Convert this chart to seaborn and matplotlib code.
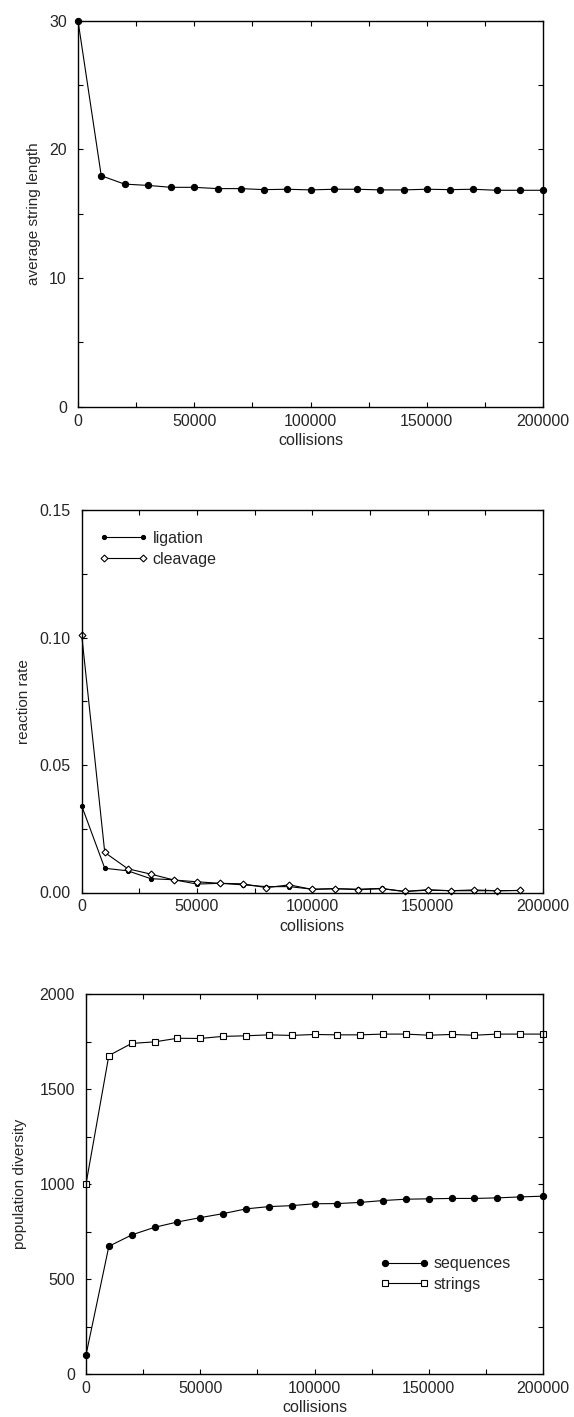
import numpy as np
import pandas as pd
import matplotlib
matplotlib.use("Agg")
import matplotlib.pyplot as plt
import seaborn as sns
from matplotlib.ticker import MultipleLocator, FormatStrFormatter

# collision counts (x axis of all three panels)
collisions = list(range(0, 200001, 10000))

# panel 1: average string length
avg_length = [30.0, 17.95, 17.3, 17.2, 17.05, 17.05, 16.95, 16.95, 16.87, 16.9,
              16.85, 16.9, 16.9, 16.85, 16.85, 16.9, 16.87, 16.9, 16.82, 16.82, 16.82]

# panel 2: reaction rates (last point at 190000)
ligation = [0.034, 0.0095, 0.0085, 0.0054, 0.0050, 0.0033, 0.0036, 0.0030, 0.0023, 0.0023,
            0.0013, 0.0015, 0.0013, 0.0016, 0.0004, 0.0009, 0.0007, 0.0007, 0.0007, 0.0008]
cleavage = [0.101, 0.0157, 0.0093, 0.0072, 0.0049, 0.0042, 0.0036, 0.0034, 0.0019, 0.0030,
            0.0012, 0.0015, 0.0011, 0.0015, 0.0004, 0.0011, 0.0007, 0.0010, 0.0007, 0.0008]

# panel 3: population diversity
sequences = [100, 672, 732, 772, 800, 823, 844, 869, 881, 886,
             896, 897, 903, 913, 920, 922, 924, 924, 927, 932, 936]
strings = [1000, 1676, 1740, 1748, 1767, 1766, 1777, 1780, 1785, 1782,
           1787, 1785, 1785, 1789, 1789, 1783, 1787, 1783, 1789, 1789, 1789]

sns.set_style("ticks")
plt.rcParams['font.family'] = ['Liberation Sans', 'DejaVu Sans']

W, H = 574, 1417
fig = plt.figure(figsize=(W / 100, H / 100), dpi=100)

def axes_px(left, right, top, bottom):
    return fig.add_axes([left / W, 1 - bottom / H, (right - left) / W, (bottom - top) / H])

ax1 = axes_px(78, 543, 20.7, 406.7)
ax2 = axes_px(81.7, 543, 510, 892.5)
ax3 = axes_px(86, 543, 994, 1374)

def style(ax, ymax, ymajor, yminor, ylabel, yfmt=None):
    ax.set_xlim(0, 200000)
    ax.set_ylim(0, ymax)
    ax.xaxis.set_major_locator(MultipleLocator(50000))
    ax.xaxis.set_minor_locator(MultipleLocator(25000))
    ax.yaxis.set_major_locator(MultipleLocator(ymajor))
    ax.yaxis.set_minor_locator(MultipleLocator(yminor))
    ax.xaxis.set_major_formatter(FormatStrFormatter('%d'))
    if yfmt:
        ax.yaxis.set_major_formatter(FormatStrFormatter(yfmt))
    ax.tick_params(which='both', direction='in', top=True, right=True,
                   width=0.8, labelsize=11.5, color='black', length=3.3)
    ax.tick_params(axis='x', pad=5)
    ax.tick_params(axis='y', pad=8)
    for s in ax.spines.values():
        s.set_linewidth(1.0)
        s.set_color('black')
    ax.set_xlabel('collisions', fontsize=11.5, labelpad=3)
    ax.set_ylabel(ylabel, fontsize=11)

leg_kw = dict(loc='upper left', frameon=False, fontsize=11.5, borderpad=0, borderaxespad=0,
              handlelength=3.05, handletextpad=0.3, labelspacing=0.35, numpoints=2)

# panel 1
df1 = pd.DataFrame({'collisions': collisions, 'length': avg_length})
sns.lineplot(data=df1, x='collisions', y='length', ax=ax1, color='black', lw=0.8,
             marker='o', markersize=4.5, markeredgecolor='black', clip_on=False)
style(ax1, 30, 10, 5, 'average string length')

# panel 2
df2 = pd.DataFrame({'collisions': collisions[:-1], 'ligation': ligation, 'cleavage': cleavage})
sns.lineplot(data=df2, x='collisions', y='ligation', ax=ax2, color='black', lw=0.8,
             marker='o', markersize=3, markeredgecolor='black', clip_on=False,
             label='ligation')
sns.lineplot(data=df2, x='collisions', y='cleavage', ax=ax2, color='black', lw=0.8,
             marker='D', markersize=3.5, markerfacecolor='white', markeredgecolor='black',
             markeredgewidth=0.8, clip_on=False, label='cleavage')
style(ax2, 0.15, 0.05, 0.025, 'reaction rate', '%.2f')
ax2.legend(bbox_to_anchor=(0.038, 0.945), **leg_kw)

# panel 3
df3 = pd.DataFrame({'collisions': collisions, 'sequences': sequences, 'strings': strings})
sns.lineplot(data=df3, x='collisions', y='sequences', ax=ax3, color='black', lw=0.8,
             marker='o', markersize=4.5, markeredgecolor='black', clip_on=False,
             label='sequences')
sns.lineplot(data=df3, x='collisions', y='strings', ax=ax3, color='black', lw=0.8,
             marker='s', markersize=4, markerfacecolor='white', markeredgecolor='black',
             markeredgewidth=0.8, clip_on=False, label='strings')
style(ax3, 2000, 500, 250, 'population diversity')
ax3.legend(bbox_to_anchor=(0.644, 0.31), **leg_kw)

ax1.yaxis.set_label_coords(-0.08, 0.5)
ax2.yaxis.set_label_coords(-0.11, 0.5)
ax3.yaxis.set_label_coords(-0.129, 0.5)

fig.savefig('out.png', dpi=100)
